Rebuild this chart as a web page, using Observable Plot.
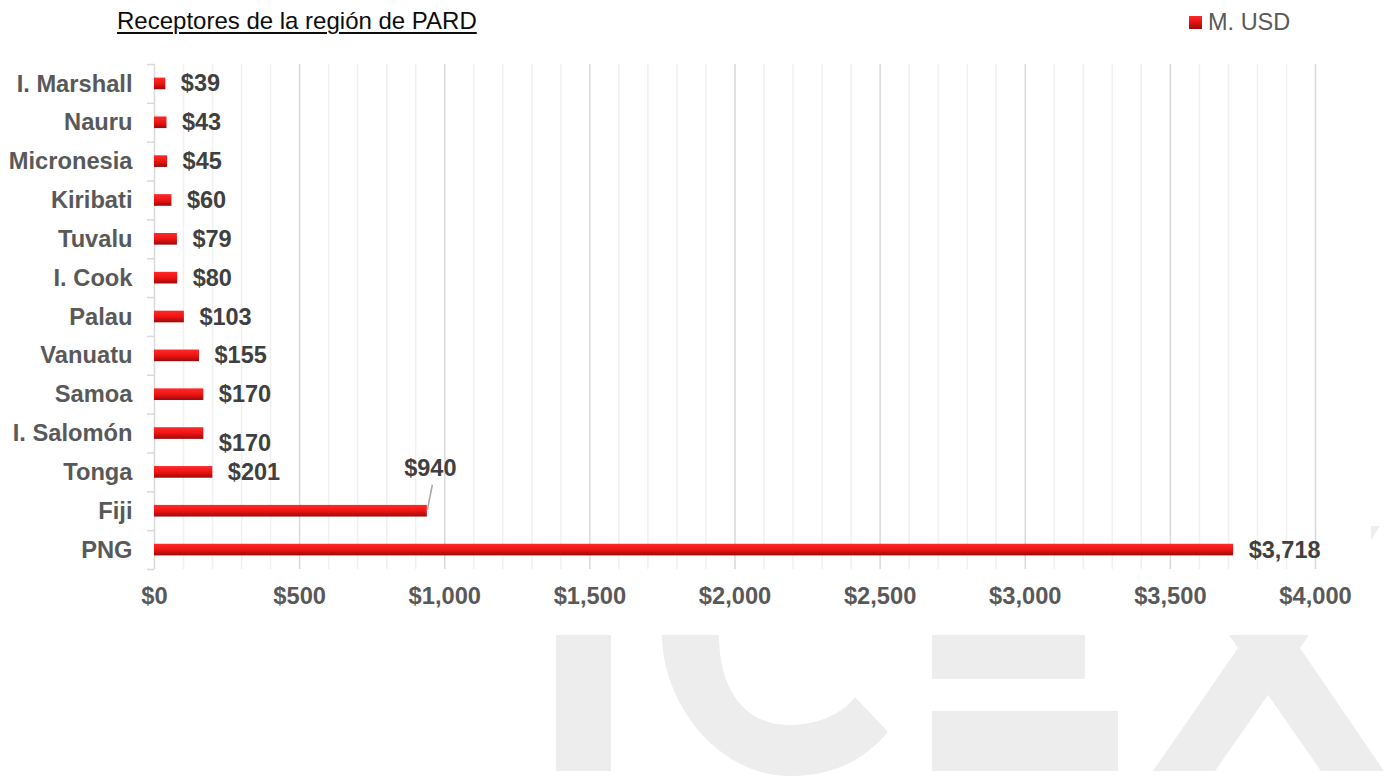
<!DOCTYPE html>
<html>
<head>
<meta charset="utf-8">
<script src="https://cdn.jsdelivr.net/npm/d3@7"></script>
<script src="https://cdn.jsdelivr.net/npm/@observablehq/plot@0.6"></script>
<style>
  html, body { margin: 0; padding: 0; background: #fff; }
  body { width: 1387px; height: 776px; overflow: hidden; position: relative; font-family: "Liberation Sans", Arial, sans-serif; }
  #wm { position: absolute; left: 0; top: 0; }
  #chart { position: absolute; left: 0; top: 0; }
  #title { position: absolute; left: 117px; top: 9px; font-size: 24px; line-height: 24px; color: #0d0d0d; white-space: nowrap;
           text-decoration: underline; text-decoration-thickness: 1.5px; text-underline-offset: 3px; }
  #legend { position: absolute; left: 1189px; top: 10px; height: 24px; font-size: 23.5px; line-height: 24px; color: #595959; white-space: nowrap; }
  #legend .sw { position: absolute; left: 0; top: 6px; width: 13px; height: 13px; background: linear-gradient(#ff2a2a, #e01010 50%, #9c0a0a); }
  #legend .lab { position: absolute; left: 19px; top: 0; }
</style>
</head>
<body>
<svg id="wm" width="1387" height="776">
  <g fill="#ededed">
    <rect x="556" y="635" width="55" height="136"></rect>
    <path d="M662,635 C662,700 715,776 791,776 C835,776 866,758 888,732 L855,697 C840,716 815,725 789,725 C745,725 719,690 719,635 Z"></path>
    <rect x="932" y="635" width="153" height="44"></rect>
    <rect x="932" y="711" width="186" height="60"></rect>
    <path d="M1229,635 L1309,635 L1300,648 L1384,771 L1321,771 L1268,695 L1215,771 L1153,771 L1238,648 Z"></path>
    <path d="M1371,526 L1380,526 L1371,540 Z"></path>
  </g>
</svg>
<div id="chart"></div>
<div id="title">Receptores de la región de PARD</div>
<div id="legend"><span class="sw"></span><span class="lab">M. USD</span></div>
<script>
// ---- data ----
const countries = ["I. Marshall", "Nauru", "Micronesia", "Kiribati", "Tuvalu", "I. Cook", "Palau", "Vanuatu", "Samoa", "I. Salomón", "Tonga", "Fiji", "PNG"];
const values = [39, 43, 45, 60, 79, 80, 103, 155, 170, 170, 201, 940, 3718];
const xTicks = [0, 500, 1000, 1500, 2000, 2500, 3000, 3500, 4000];
const minorStep = 100;

const data = countries.map((c, i) => ({country: c, value: values[i]}));
const minorTicks = d3.range(0, 4000 + 1, minorStep).filter(v => v % 500 !== 0);
const fmt = v => "$" + d3.format(",")(v);

const W = 1387, H = 640, MT = 64, MB = 71, ML = 154, MR = 72;
const step = (H - MT - MB) / countries.length;

const normal = data.filter(d => d.country !== "Fiji" && d.country !== "I. Salomón");
const shifted = data.filter(d => d.country === "I. Salomón");
const callout = data.filter(d => d.country === "Fiji");

const labelStyle = {fill: "#404040", fontWeight: "bold", fontSize: 23.5};

const plot = Plot.plot({
  width: W, height: H,
  marginTop: MT, marginBottom: MB, marginLeft: ML, marginRight: MR,
  style: {background: "transparent", fontFamily: "'Liberation Sans', Arial, sans-serif", fontSize: "23.7px", fontWeight: "bold", color: "#595959", overflow: "visible"},
  x: {domain: [0, 4000], ticks: xTicks, tickFormat: fmt, tickSize: 0, tickPadding: 18, label: null},
  y: {domain: countries, paddingInner: 0.7, paddingOuter: 0.35, round: false, tickSize: 0, tickPadding: 22, label: null},
  marks: [
    Plot.ruleX(minorTicks, {stroke: "#f0f0f0", strokeWidth: 1.5}),
    Plot.ruleX(xTicks.slice(1), {stroke: "#d9d9d9", strokeWidth: 1.5}),
    Plot.ruleX([0], {stroke: "#d9d9d9", strokeWidth: 1.5}),
    Plot.ruleY(countries, {y: d => d, x1: -24, x2: 0, dy: step / 2, stroke: "#d9d9d9", strokeWidth: 1.5}),
    Plot.ruleY(countries.slice(0, 1), {y: d => d, x1: -24, x2: 0, dy: -step / 2, stroke: "#d9d9d9", strokeWidth: 1.5}),
    Plot.barX(data, {x: "value", y: "country", fill: "url(#barGrad)"}),
    Plot.text(normal, {x: "value", y: "country", text: d => fmt(d.value), dx: 15, textAnchor: "start", ...labelStyle}),
    Plot.text(shifted, {x: "value", y: "country", text: d => fmt(d.value), dx: 15, dy: 10, textAnchor: "start", ...labelStyle}),
    Plot.text(callout, {x: "value", y: "country", text: d => fmt(d.value), dx: 3, dy: -43, textAnchor: "middle", ...labelStyle})
  ]
});

const svgNS = "http://www.w3.org/2000/svg";
const defs = document.createElementNS(svgNS, "defs");
defs.innerHTML = '<linearGradient id="barGrad" x1="0" y1="0" x2="0" y2="1">' +
  '<stop offset="0" stop-color="#ff2a2a"/><stop offset="0.5" stop-color="#f01414"/><stop offset="1" stop-color="#9c0a0a"/></linearGradient>';
plot.insertBefore(defs, plot.firstChild);

// leader line for the Fiji callout, positioned from the plot's own scales
const xs = plot.scale("x"), ys = plot.scale("y");
callout.forEach(d => {
  const x0 = xs.apply(d.value);
  const yc = ys.apply(d.country) + ys.bandwidth / 2;
  d3.select(plot).append("line")
    .attr("x1", x0 + 0.5).attr("y1", yc - 1)
    .attr("x2", x0 + 5.5).attr("y2", yc - 26)
    .attr("stroke", "#a6a6a6").attr("stroke-width", 1.5);
});

document.getElementById("chart").appendChild(plot);
</script>
</body>
</html>
